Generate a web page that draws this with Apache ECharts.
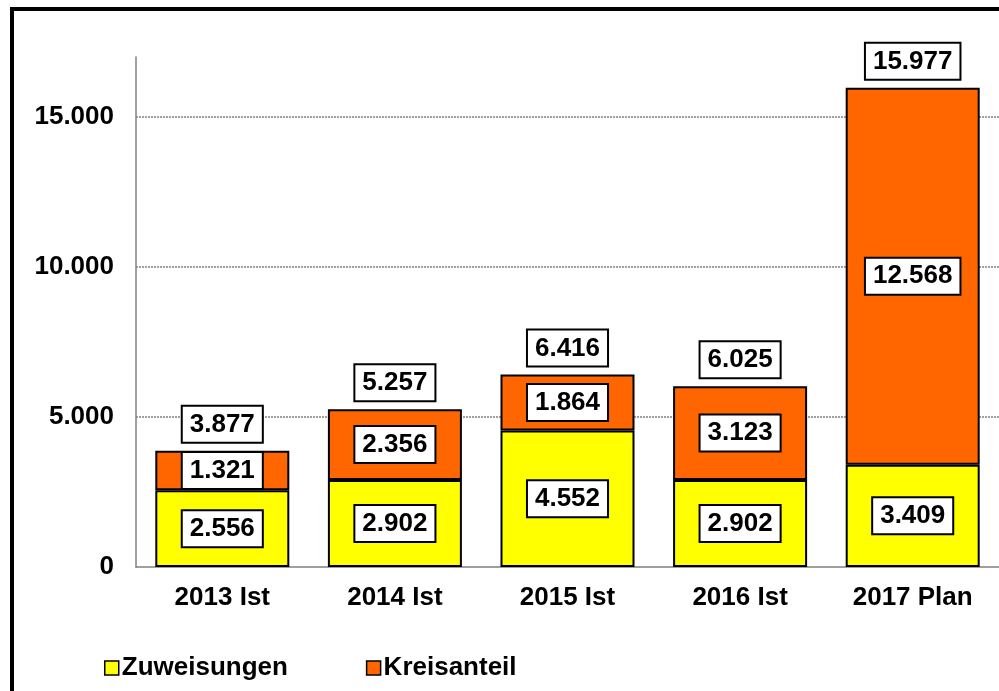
<!DOCTYPE html>
<html>
<head>
<meta charset="utf-8">
<script src="https://cdn.jsdelivr.net/npm/echarts@6/dist/echarts.min.js"></script>
<style>
  html, body { margin: 0; padding: 0; background: #fff; }
  #chart { width: 999px; height: 691px; }
</style>
</head>
<body>
<div id="chart"></div>
<script>
// Jahre
var categories = ['2013 Ist', '2014 Ist', '2015 Ist', '2016 Ist', '2017 Plan'];
// Werte
var zuweisungen = [2556, 2902, 4552, 2902, 3409];
var kreisanteil = [1321, 2356, 1864, 3123, 12568];
var summen = [3877, 5257, 6416, 6025, 15977];

var fontFam = 'Liberation Sans, Arial, sans-serif';

function fmt(v) {
    return String(v).replace(/\B(?=(\d{3})+(?!\d))/g, '.');
}

var boxLabel = {
    show: true,
    position: 'inside',
    formatter: function (p) { return fmt(p.value); },
    backgroundColor: '#fff',
    borderColor: '#000',
    borderWidth: 2,
    padding: [5, 7, 4, 7],
    color: '#000',
    fontFamily: fontFam,
    fontWeight: 'bold',
    fontSize: 26
};

var chart = echarts.init(document.getElementById('chart'));
chart.setOption({
    animation: false,
    backgroundColor: '#fff',
    textStyle: { fontFamily: fontFam },
    graphic: [{
        type: 'rect',
        shape: { x: 12, y: 9, width: 1100, height: 800 },
        style: { fill: 'none', stroke: '#000', lineWidth: 4 },
        silent: true
    }],
    legend: {
        data: ['Zuweisungen', 'Kreisanteil'],
        left: 99,
        top: 650,
        itemWidth: 14,
        itemHeight: 14,
        itemGap: 78,
        icon: 'rect',
        itemStyle: { borderColor: '#000', borderWidth: 1.5 },
        textStyle: { fontFamily: fontFam, fontWeight: 'bold', fontSize: 26, color: '#000', padding: [0, 0, 0, -2] }
    },
    grid: {
        left: 136,
        top: 57,
        width: 872,
        height: 510,
        containLabel: false
    },
    xAxis: {
        type: 'category',
        data: categories,
        axisLine: { show: true, lineStyle: { color: '#808080', width: 1.5 } },
        axisTick: { show: false },
        axisLabel: {
            color: '#000',
            fontFamily: fontFam,
            fontWeight: 'bold',
            fontSize: 26,
            margin: 18
        }
    },
    yAxis: {
        type: 'value',
        min: 0,
        max: 17000,
        interval: 5000,
        axisLine: { show: true, lineStyle: { color: '#808080', width: 1.5 } },
        axisTick: { show: false },
        axisLabel: {
            color: '#000',
            fontFamily: fontFam,
            fontWeight: 'bold',
            fontSize: 26,
            margin: 22,
            showMaxLabel: false,
            formatter: function (v) { return v === 17000 ? '' : fmt(v); }
        },
        splitLine: {
            show: true,
            showMinLine: false,
            showMaxLine: false,
            lineStyle: { color: '#808080', type: [2, 1], width: 1.5 }
        }
    },
    series: [
        {
            name: 'Zuweisungen',
            type: 'bar',
            stack: 'gesamt',
            barWidth: 134,
            data: zuweisungen,
            itemStyle: { color: '#FFFF00', borderColor: '#000', borderWidth: 2 },
            label: boxLabel
        },
        {
            name: 'Kreisanteil',
            type: 'bar',
            stack: 'gesamt',
            barWidth: 134,
            data: kreisanteil,
            itemStyle: { color: '#FF6600', borderColor: '#000', borderWidth: 2 },
            label: boxLabel
        },
        {
            name: 'Summe',
            type: 'scatter',
            data: summen,
            symbol: 'rect',
            symbolSize: 2,
            itemStyle: { color: 'rgba(0,0,0,0)', opacity: 1 },
            label: Object.assign({}, boxLabel, { position: 'top', distance: 8 }),
            emphasis: { disabled: true },
            z: 5
        }
    ]
});
</script>
</body>
</html>
